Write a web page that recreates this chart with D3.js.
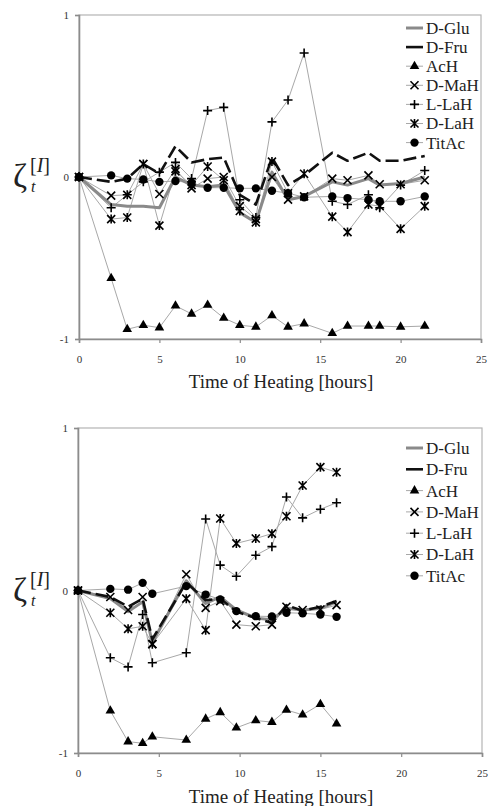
<!DOCTYPE html>
<html>
<head>
<meta charset="utf-8">
<script src="https://cdn.jsdelivr.net/npm/d3@7"></script>
<style>
body { margin: 0; background: #fff; }
</style>
</head>
<body>
<div id="main_div"></div>
<script>
// series names (legend order)
var names = ["D-Glu", "D-Fru", "AcH", "D-MaH", "L-LaH", "D-LaH", "TitAc"];
var x_ticks = [0, 5, 10, 15, 20, 25];
var y_ticks = [-1, 0, 1];

// upper chart
var t1 = [0, 2, 3, 4, 5, 6, 7, 8, 9, 10, 11, 12, 13, 14, 15.75, 16.7, 18, 18.7, 20, 21.5];
var glu1 = [0, -0.17, -0.18, -0.18, -0.19, 0.0, -0.05, -0.06, -0.05, -0.22, -0.28, 0.03, -0.14, -0.12, -0.03, -0.05, -0.01, -0.05, -0.04, 0.0];
var fru1 = [0, -0.03, -0.01, 0.08, 0.02, 0.19, 0.09, 0.11, 0.12, -0.11, -0.17, 0.12, -0.05, 0.01, 0.15, 0.1, 0.15, 0.1, 0.1, 0.13];
var ach1 = [0, -0.625, -0.94, -0.915, -0.93, -0.795, -0.845, -0.79, -0.87, -0.915, -0.925, -0.855, -0.925, -0.905, -0.965, -0.92, -0.92, -0.92, -0.925, -0.92];
var mah1 = [0, -0.115, -0.11, 0.08, -0.105, 0.05, -0.07, -0.01, 0.0, -0.18, -0.26, 0.0, -0.14, -0.12, -0.01, -0.02, 0.01, -0.045, -0.045, -0.02];
var llah1 = [0, -0.19, -0.11, -0.03, 0.03, 0.09, -0.01, 0.41, 0.43, -0.14, -0.25, 0.34, 0.475, 0.765, -0.15, -0.17, -0.11, -0.19, -0.05, 0.04];
var dlah1 = [0, -0.26, -0.25, 0.08, -0.3, 0.035, -0.05, 0.065, -0.02, -0.21, -0.28, 0.095, -0.1, 0.02, -0.245, -0.34, -0.17, -0.18, -0.32, -0.18];
var tit1 = [0, 0.01, -0.01, -0.015, -0.03, -0.025, -0.035, -0.066, -0.066, -0.07, -0.07, -0.085, -0.1, -0.125, -0.12, -0.13, -0.14, -0.15, -0.15, -0.12];

// lower chart
var t2 = [0, 2, 3.1, 4, 4.6, 6.7, 7.9, 8.8, 9.8, 11, 12, 12.9, 13.9, 15, 16];
var glu2 = [0, -0.05, -0.13, -0.07, -0.32, 0.06, -0.08, -0.04, -0.12, -0.17, -0.18, -0.11, -0.12, -0.11, -0.07];
var fru2 = [0, -0.04, -0.1, -0.05, -0.3, 0.05, -0.06, -0.05, -0.13, -0.17, -0.2, -0.09, -0.125, -0.1, -0.065];
var ach2 = [0, -0.74, -0.93, -0.94, -0.9, -0.92, -0.79, -0.75, -0.845, -0.8, -0.81, -0.735, -0.765, -0.7, -0.82];
var mah2 = [0, -0.04, -0.12, -0.04, -0.33, 0.1, -0.107, -0.065, -0.21, -0.22, -0.21, -0.1, -0.12, -0.117, -0.09];
var llah2 = [0, -0.414, -0.47, -0.148, -0.445, -0.383, 0.44, 0.156, 0.088, 0.217, 0.27, 0.575, 0.447, 0.5, 0.54];
var dlah2 = [0, -0.137, -0.236, -0.22, -0.33, -0.05, -0.244, 0.443, 0.29, 0.32, 0.35, 0.457, 0.646, 0.759, 0.728];
var tit2 = [0, 0.01, 0.005, 0.047, -0.02, 0.027, -0.025, -0.055, -0.127, -0.158, -0.16, -0.137, -0.14, -0.148, -0.162];

// line / marker style per series, same order as names
var styles = [
    {stroke: "#8a8a8a", width: 3, dash: null, marker: null},
    {stroke: "#111", width: 2.6, dash: "13,5", marker: null},
    {stroke: "#a8a8a8", width: 1, dash: null, marker: "tri"},
    {stroke: "#a8a8a8", width: 1, dash: null, marker: "x"},
    {stroke: "#a8a8a8", width: 1, dash: null, marker: "plus"},
    {stroke: "#a8a8a8", width: 1, dash: null, marker: "star"},
    {stroke: "#a8a8a8", width: 1, dash: null, marker: "dot"}
];

var serif = "Liberation Serif";

var svg = d3.select("#main_div").append("svg").attr("width", 491).attr("height", 806);

function markerPath(type) {
    if (type == "tri") return d3.symbol().type(d3.symbolTriangle).size(40)();
    if (type == "dot") return d3.symbol().type(d3.symbolCircle).size(55)();
    if (type == "x") return "M-4,-4L4,4M-4,4L4,-4";
    if (type == "plus") return "M-4.5,0L4.5,0M0,-4.5L0,4.5";
    if (type == "star") return "M-4,-4L4,4M-4,4L4,-4M0,-4.5L0,4.5";
}

function drawMarker(g, type, x, y) {
    var filled = (type == "tri" || type == "dot");
    g.append("path")
        .attr("d", markerPath(type))
        .attr("transform", "translate(" + x + "," + y + ")")
        .attr("fill", filled ? "#000" : "none")
        .attr("stroke", "#000")
        .attr("stroke-width", filled ? 0 : 1.6);
}

function txt(g, x, y, size) {
    return g.append("text").attr("x", x).attr("y", y)
        .attr("font-family", serif).attr("font-size", size).attr("fill", "#222");
}

function chart(opt) {
    var x_scale = d3.scaleLinear().domain([0, 25]).range([opt.x0, opt.x1]);
    var y_scale = d3.scaleLinear().domain([-1, 1]).range([opt.y0, opt.y1]);
    var g = svg.append("g");

    // plot frame
    g.append("rect")
        .attr("x", opt.x0).attr("y", opt.y1)
        .attr("width", opt.x1 - opt.x0).attr("height", opt.y0 - opt.y1)
        .attr("fill", "none").attr("stroke", "#b4b4b4").attr("stroke-width", 1.2);

    var g_y = g.append("g").attr("transform", "translate(" + opt.x0 + ",0)")
        .call(d3.axisLeft(y_scale).tickValues(y_ticks).tickSize(4).tickPadding(6).tickFormat(d3.format("d")));
    var g_x = g.append("g").attr("transform", "translate(0," + opt.y0 + ")")
        .call(d3.axisBottom(x_scale).tickValues(x_ticks).tickSize(4).tickPadding(12));
    [g_y, g_x].forEach(function(a) {
        a.attr("font-family", serif).attr("font-size", 11);
        a.select(".domain").attr("stroke", "#8c8c8c").attr("stroke-width", 1.6);
        a.selectAll(".tick line").attr("stroke", "#8c8c8c").attr("stroke-width", 1.2);
        a.selectAll(".tick text").attr("fill", "#333");
    });
    g_y.selectAll(".tick text").text(function(d) { return d == -1 ? "-1" : d; });

    // series lines, thin ones first
    var order = [2, 3, 4, 5, 6, 0, 1];
    var line = d3.line()
        .x(function(d) { return x_scale(d[0]); })
        .y(function(d) { return y_scale(d[1]); });
    order.forEach(function(i) {
        var s = styles[i];
        var pts = opt.t.map(function(t, k) { return [t, opt.series[i][k]]; });
        g.append("path").datum(pts)
            .attr("d", line)
            .attr("fill", "none")
            .attr("stroke", s.stroke)
            .attr("stroke-width", s.width)
            .attr("stroke-dasharray", s.dash)
            .attr("stroke-linejoin", "round");
    });
    order.forEach(function(i) {
        var s = styles[i];
        if (!s.marker) return;
        opt.t.forEach(function(t, k) {
            drawMarker(g, s.marker, x_scale(t), y_scale(opt.series[i][k]));
        });
    });

    // legend
    names.forEach(function(n, i) {
        var s = styles[i];
        var ly = opt.ly + i * opt.lstep;
        g.append("line")
            .attr("x1", 406).attr("x2", 423).attr("y1", ly).attr("y2", ly)
            .attr("stroke", s.stroke).attr("stroke-width", s.width);
        if (s.marker) drawMarker(g, s.marker, 414.5, ly);
        txt(g, 426, ly, 17).attr("dy", "0.35em").text(n);
    });

    // axis title
    txt(g, 281, opt.ty, 19).attr("text-anchor", "middle").text("Time of Heating [hours]");

    // y label: zeta_t^[I]
    txt(g, 13, y_scale(0) + 10, 34).text("ζ");
    txt(g, 31, y_scale(0) + 15, 16).attr("font-style", "italic").text("t");
    var sup = txt(g, 30, y_scale(0) - 5, 20);
    sup.append("tspan").text("[");
    sup.append("tspan").attr("font-style", "italic").text("I");
    sup.append("tspan").text("]");
}

chart({x0: 79, x1: 481, y0: 339, y1: 15, t: t1,
    series: [glu1, fru1, ach1, mah1, llah1, dlah1, tit1],
    ly: 28, lstep: 19.1, ty: 388});
chart({x0: 78, x1: 482, y0: 753, y1: 428, t: t2,
    series: [glu2, fru2, ach2, mah2, llah2, dlah2, tit2],
    ly: 448, lstep: 21.3, ty: 803});
</script>
</body>
</html>
